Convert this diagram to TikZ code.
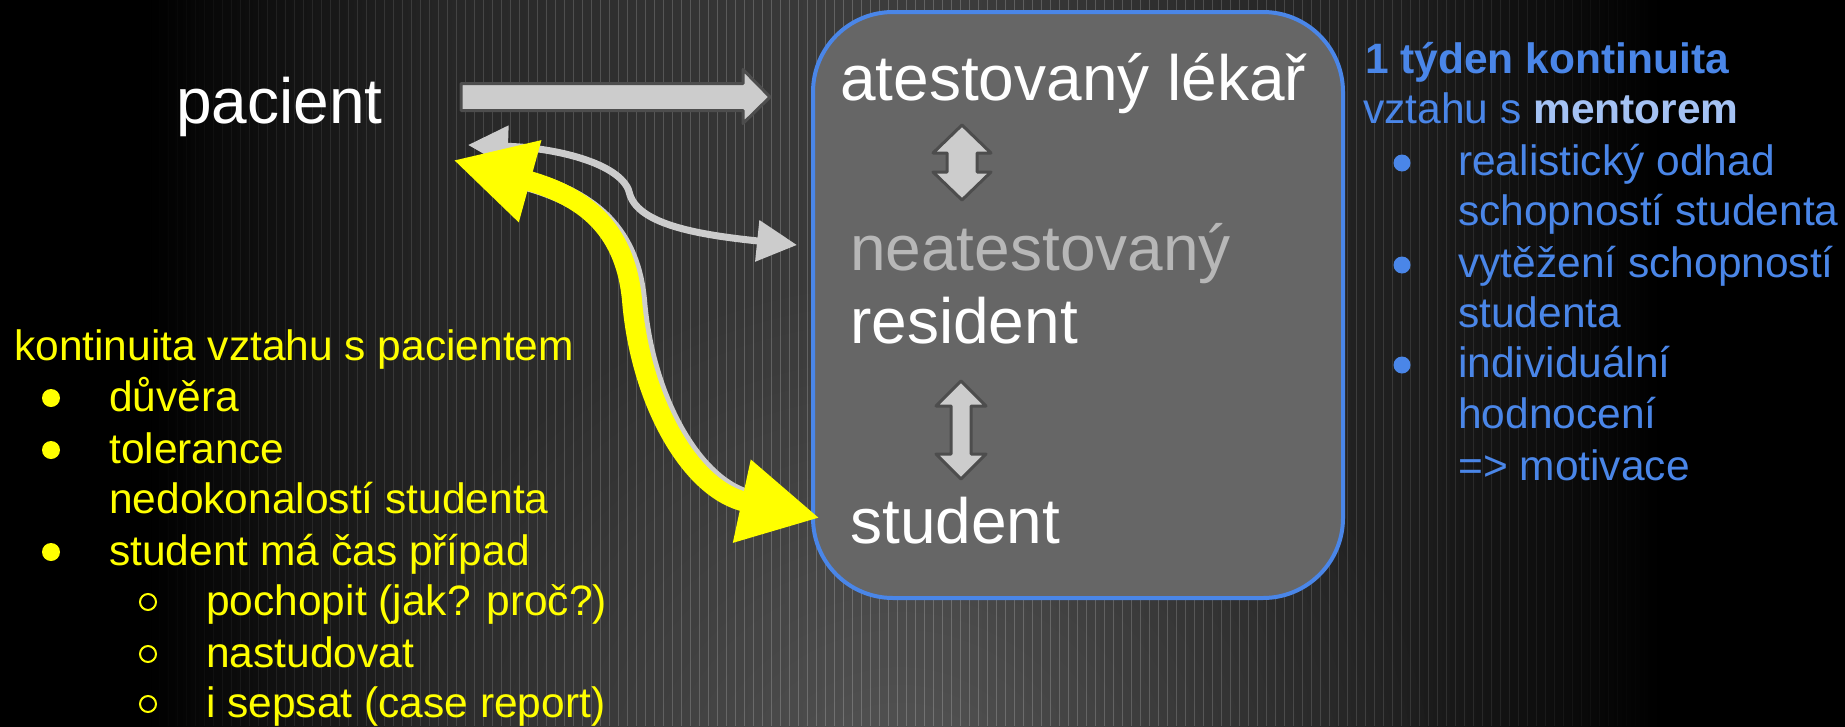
\documentclass[tikz,border=0pt]{standalone}
\usepackage{fontspec}
\setmainfont{Liberation Sans}
\usetikzlibrary{arrows.meta,fadings}

\definecolor{boxblue}{HTML}{4A86E8}
\definecolor{boxgray}{HTML}{666666}
\definecolor{arrfill}{HTML}{CCCCCC}
\definecolor{arrline}{HTML}{4D4D4D}
\definecolor{neatgray}{HTML}{B7B7B7}
\definecolor{mentorblue}{HTML}{A4C2F4}
\definecolor{bgA}{HTML}{262626}
\definecolor{bgB}{HTML}{3C3C3C}
\definecolor{bgC}{HTML}{1E1E1E}
\definecolor{yel}{HTML}{FFFF00}

\pgfdeclarehorizontalshading{bgh}{100bp}{color(0bp)=(black); color(29bp)=(black); color(37bp)=(bgA); color(48bp)=(bgB); color(51bp)=(bgB); color(63bp)=(bgC); color(70bp)=(black); color(100bp)=(black)}
\tikzfading[name=glowfade, inner color=transparent!0, outer color=transparent!100]

\newcommand{\vdblarrow}[6]{%
  \draw[blockarr] (#1,#2) -- (#1+#5,#2+#4) -- (#1+#6,#2+#4) -- (#1+#6,#3-#4) -- (#1+#5,#3-#4) -- (#1,#3) -- (#1-#5,#3-#4) -- (#1-#6,#3-#4) -- (#1-#6,#2+#4) -- (#1-#5,#2+#4) -- cycle;}

\tikzset{
  bigtxt/.style={font=\fontsize{64}{70}\selectfont, text=white, anchor=base west, inner sep=0pt},
  bluetxt/.style={font=\fontsize{42.5}{50}\selectfont, text=boxblue, anchor=base west, inner sep=0pt},
  yeltxt/.style={font=\fontsize{42.5}{50}\selectfont, text=yel, anchor=base west, inner sep=0pt},
  blockarr/.style={fill=arrfill, draw=arrline, line width=3pt, line join=round},
  yarrow/.style={draw=yel, line width=20pt, {Triangle[length=80pt,width=79pt]}-{Triangle[length=80pt,width=79pt]}},
  garrow/.style={draw=arrfill, line width=7pt, {Triangle[length=40pt,width=40pt]}-{Triangle[length=40pt,width=40pt]}},
  mainbox/.style={draw=boxblue, line width=4pt, fill=boxgray, rounded corners=80pt, inner sep=0pt}
}

\begin{document}
\begin{tikzpicture}[x=1pt, y=-1pt]
\useasboundingbox (0,0) rectangle (1845,726);
% background
\fill[black] (0,0) rectangle (1845,726);
\shade[shading=bgh] (0,0) rectangle (1845,726);
\fill[white, opacity=0.12, path fading=glowfade] (900,820) ellipse [x radius=560, y radius=560];
\foreach \i in {0,...,172}{
  \pgfmathsetmacro\xx{150+9*\i}
  \pgfmathsetmacro\op{max(0,0.2*(1-((\xx-900)/760)^2))}
  \draw[white, opacity=\op, line width=0.9pt] (\xx,0) -- (\xx,726);
}

% box
\node[mainbox, minimum width=530pt, minimum height=586pt] (box) at (1078,305) {};

% texts in box
\node[bigtxt] (atest) at (840,100) {atestovaný lékař};
\node[bigtxt, text=neatgray] (neat) at (850,270) {neatestovaný};
\node[bigtxt] (resident) at (850,343) {resident};
\node[bigtxt] (student) at (850,543) {student};
\node[bigtxt] (pacient) at (176,123) {pacient};

% double arrows in box
\vdblarrow{962}{125}{200}{28}{29}{15}
\vdblarrow{961}{381}{479}{25}{25}{10}

% big horizontal arrow
\draw[blockarr] (461,83.5) -- (743,83.5) -- (743,69.5) -- (770,97) -- (743,123.5) -- (743,110.5) -- (461,110.5) -- cycle;

% connector coordinates
\coordinate (ga) at (468,145);
\coordinate (gb) at (797,245);
\coordinate (gm) at (630,195);
\coordinate (ya) at (453,160);
\coordinate (yb) at (820,518);
\coordinate (ym) at (632,300);

% thin gray double arrow
\draw[garrow] (ga) .. controls (560,148) and (625,165) .. (gm) .. controls (640,225) and (700,235) .. (gb);

% gray shadow of yellow arrow
\draw[draw=arrfill, line width=20pt, shorten <=70pt, shorten >=70pt] ([shift={(5,2)}]ya) .. controls (585,197) and (630,227) .. ([shift={(5,0)}]ym) .. controls (645,400) and (695,488) .. ([shift={(0,-3)}]yb);

% yellow double arrow
\draw[yarrow] (ya) .. controls (580,195) and (625,225) .. (ym) .. controls (640,400) and (690,490) .. (yb);

% right text
\node[bluetxt] (r1) at (1365,73) {\bfseries 1 týden kontinuita};
\node[bluetxt] (r2) at (1363,123) {vztahu s \textbf{\textcolor{mentorblue}{mentorem}}};
\fill[boxblue] (1402,163) circle (8.5);
\fill[boxblue] (1402,265) circle (8.5);
\fill[boxblue] (1402,365) circle (8.5);
\node[bluetxt] (r3) at (1458,175) {realistický odhad};
\node[bluetxt] (r4) at (1458,225) {schopností studenta};
\node[bluetxt] (r5) at (1458,277) {vytěžení schopností};
\node[bluetxt] (r6) at (1458,327) {studenta};
\node[bluetxt] (r7) at (1458,377) {individuální};
\node[bluetxt] (r8) at (1458,428) {hodnocení};
\node[bluetxt] (r9) at (1458,480) {=> motivace};

% left text
\node[yeltxt] (l0) at (14,360) {kontinuita vztahu s pacientem};
\fill[yel] (51,398) circle (9);
\fill[yel] (51,450) circle (9);
\fill[yel] (51,552) circle (9);
\node[yeltxt] (l1) at (109,411) {důvěra};
\node[yeltxt] (l2) at (109,463) {tolerance};
\node[yeltxt] (l3) at (109,513) {nedokonalostí studenta};
\node[yeltxt] (l4) at (109,565) {student má čas případ};
\draw[yel, line width=2pt] (148,602) circle (8);
\draw[yel, line width=2pt] (148,654) circle (8);
\draw[yel, line width=2pt] (148,704) circle (8);
\node[yeltxt] (l5) at (206,615) {pochopit (jak? proč?)};
\node[yeltxt] (l6) at (206,667) {nastudovat};
\node[yeltxt] (l7) at (206,717) {i sepsat (case report)};
\end{tikzpicture}
\end{document}
